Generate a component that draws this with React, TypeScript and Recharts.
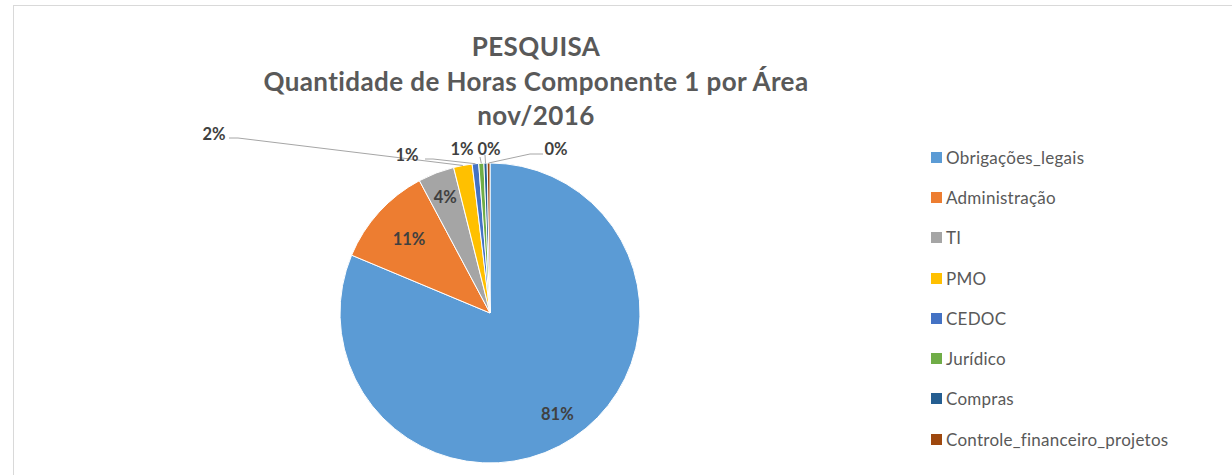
import React from 'react';
import { PieChart, Pie, Cell, Legend } from 'recharts';

const categories = [
  'Obrigações_legais',
  'Administração',
  'TI',
  'PMO',
  'CEDOC',
  'Jurídico',
  'Compras',
  'Controle_financeiro_projetos',
];
const hours = [813, 109, 39, 20, 7, 5.5, 3.5, 3];
const colors = ['#5B9BD5', '#ED7D31', '#A5A5A5', '#FFC000', '#4472C4', '#70AD47', '#255E91', '#9E480E'];
const titleLines = ['PESQUISA', 'Quantidade de Horas Componente 1 por Área', 'nov/2016'];

const data = categories.map((name, i) => ({ name, value: hours[i] }));

type LabelCfg =
  | { kind: 'in'; r: number }
  | { kind: 'out'; dx: number; dy: number; attach: [number, number]; elbow: [number, number] };

const labelLayout: LabelCfg[] = [
  { kind: 'in', r: 0.81 },
  { kind: 'in', r: 0.73 },
  { kind: 'in', r: 0.83 },
  { kind: 'out', dx: -276, dy: -179, attach: [15, 4], elbow: [24, 4] },
  { kind: 'out', dx: -83, dy: -158, attach: [18, 4], elbow: [26, 4] },
  { kind: 'out', dx: -28, dy: -164, attach: [18, 8], elbow: [18, 8] },
  { kind: 'out', dx: -1, dy: -164, attach: [-4, 6], elbow: [-4, 6] },
  { kind: 'out', dx: 66, dy: -164, attach: [-13, 5], elbow: [-26, 5] },
];

const FONT = 'Lato, "Open Sans", sans-serif';
const RAD = Math.PI / 180;

const labelText = (x: number, y: number, txt: string) => (
  <text
    x={x}
    y={y}
    textAnchor="middle"
    dominantBaseline="central"
    fill="#404040"
    fontFamily={FONT}
    fontWeight={700}
    fontSize={16.5}
  >
    {txt}
  </text>
);

const renderLabel = (props: any) => {
  const { cx, cy, midAngle, outerRadius, index, percent } = props;
  const cfg = labelLayout[index];
  const txt = `${Math.round(percent * 100)}%`;
  const cos = Math.cos(-midAngle * RAD);
  const sin = Math.sin(-midAngle * RAD);
  if (cfg.kind === 'in') {
    const r = outerRadius * cfg.r;
    return <g key={`l${index}`}>{labelText(cx + r * cos, cy + r * sin, txt)}</g>;
  }
  const tx = cx + cfg.dx;
  const ty = cy + cfg.dy;
  const ex = cx + outerRadius * cos;
  const ey = cy + outerRadius * sin;
  const pts = `${ex},${ey} ${tx + cfg.elbow[0]},${ty + cfg.elbow[1]} ${tx + cfg.attach[0]},${ty + cfg.attach[1]}`;
  return (
    <g key={`l${index}`}>
      <polyline points={pts} fill="none" stroke="#A6A6A6" strokeWidth={1} />
      {labelText(tx, ty, txt)}
    </g>
  );
};

const renderLegend = () => (
  <div style={{ fontFamily: FONT, fontSize: 17, letterSpacing: 0.25, color: '#595959' }}>
    {categories.map((name, i) => (
      <div key={name} style={{ height: 40.3, display: 'flex', alignItems: 'center', whiteSpace: 'nowrap' }}>
        <span style={{ display: 'inline-block', width: 11, height: 11, background: colors[i], marginRight: 4 }} />
        <span>{name}</span>
      </div>
    ))}
  </div>
);

export default function App() {
  return (
    <div
      style={{
        position: 'absolute',
        left: 13,
        top: 5,
        width: 1219,
        height: 470,
        borderTop: '1px solid #D9D9D9',
        borderLeft: '1px solid #D9D9D9',
        overflow: 'hidden',
        background: '#fff',
      }}
    >
      <div
        style={{
          position: 'absolute',
          left: 0,
          top: 23,
          width: 1044,
          textAlign: 'center',
          fontFamily: FONT,
          fontWeight: 700,
          fontSize: 26,
          letterSpacing: 0.4,
          lineHeight: '34.5px',
          color: '#595959',
        }}
      >
        {titleLines.map((t, i) => (
          <div key={i}>{t}</div>
        ))}
      </div>
      <div style={{ position: 'absolute', left: 0, top: 0 }}>
        <PieChart width={1218} height={469} margin={{ top: 0, right: 0, bottom: 0, left: 0 }}>
          <Pie
            data={data}
            dataKey="value"
            nameKey="name"
            cx={476}
            cy={307}
            outerRadius={150}
            startAngle={90}
            endAngle={-270}
            stroke="#FFFFFF"
            strokeWidth={1}
            label={renderLabel}
            labelLine={false}
            isAnimationActive={false}
          >
            {data.map((d, i) => (
              <Cell key={d.name} fill={colors[i]} />
            ))}
          </Pie>
          <Legend
            layout="vertical"
            content={renderLegend}
            wrapperStyle={{ position: 'absolute', left: 917, top: 131, width: 300 }}
          />
        </PieChart>
      </div>
    </div>
  );
}
